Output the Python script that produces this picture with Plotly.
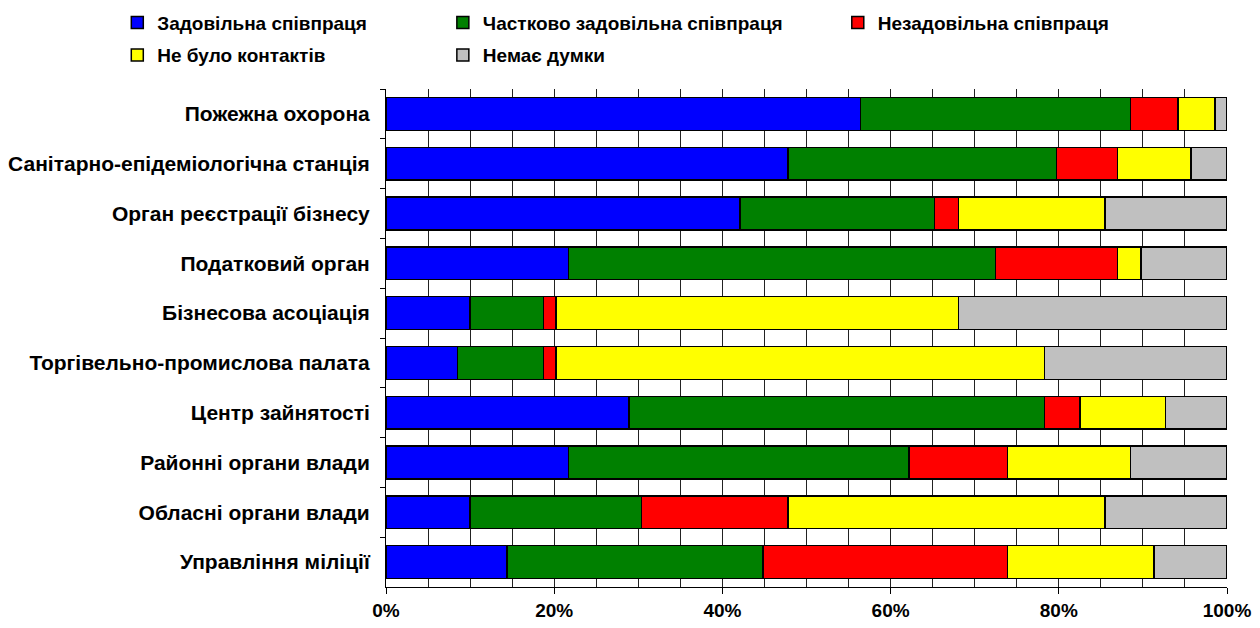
import plotly.graph_objects as go

categories = [
    "Пожежна охорона",
    "Санітарно-епідеміологічна станція",
    "Орган реєстрації бізнесу",
    "Податковий орган",
    "Бізнесова асоціація",
    "Торгівельно-промислова палата",
    "Центр зайнятості",
    "Районні органи влади",
    "Обласні органи влади",
    "Управління міліції",
]

satisfactory = [56.4, 47.8, 42.1, 21.7, 10.0, 8.5, 28.9, 21.7, 10.0, 14.4]
partly = [32.1, 31.9, 23.1, 50.8, 8.7, 10.2, 49.4, 40.5, 20.4, 30.4]
unsatisfactory = [5.7, 7.3, 2.9, 14.5, 1.5, 1.5, 4.2, 11.7, 17.4, 29.1]
no_contact = [4.4, 8.7, 17.4, 2.8, 47.9, 58.1, 10.2, 14.6, 37.7, 17.4]
no_opinion = [1.4, 4.3, 14.5, 10.2, 31.9, 21.7, 7.3, 11.5, 14.5, 8.7]

series_names = [
    "Задовільна співпраця",
    "Частково задовільна співпраця",
    "Незадовільна співпраця",
    "Не було контактів",
    "Немає думки",
]
series_values = [satisfactory, partly, unsatisfactory, no_contact, no_opinion]
colors = ["#0000FF", "#008000", "#FF0000", "#FFFF00", "#C0C0C0"]

x_ticks = [0, 20, 40, 60, 80, 100]
x_ticklabels = ["0%", "20%", "40%", "60%", "80%", "100%"]

FONT = "Liberation Sans, Arial, sans-serif"
legend_ids = ["legend", "legend2", "legend3", "legend4", "legend5"]

fig = go.Figure()
for name, vals, col, lg in zip(series_names, series_values, colors, legend_ids):
    fig.add_trace(go.Bar(
        y=categories, x=vals, name=name, orientation="h",
        marker=dict(color=col, line=dict(color="#000000", width=1.5)),
        legend=lg,
    ))

# legend positions (paper coordinates relative to plot area)
leg_pos = [(-0.3195, 1.133), (0.0676, 1.133), (0.5372, 1.133), (-0.3195, 1.068), (0.0676, 1.068)]
leg_common = dict(
    orientation="h", xanchor="left", yanchor="middle",
    font=dict(family=FONT, size=19, color="#000000", weight="bold"),
    bgcolor="rgba(0,0,0,0)", borderwidth=0, itemwidth=30,
)
layout_legends = {}
for lg, (lx, ly) in zip(legend_ids, leg_pos):
    layout_legends[lg] = dict(x=lx, y=ly, **leg_common)

fig.update_layout(
    barmode="stack",
    bargap=0.34,
    width=1260, height=628,
    margin=dict(l=378, r=41, t=81, b=49, autoexpand=False),
    paper_bgcolor="#FFFFFF",
    plot_bgcolor="#FFFFFF",
    font=dict(family=FONT, size=19, color="#000000"),
    showlegend=True,
    **layout_legends,
)

fig.update_xaxes(
    range=[0, 100],
    tickvals=x_ticks, ticktext=x_ticklabels,
    tickfont=dict(family=FONT, size=19, color="#000000", weight="bold"),
    showgrid=False,
    showline=True, linecolor="#000000", linewidth=1,
    ticks="outside", ticklen=6, tickcolor="#000000", tickwidth=1,
    minor=dict(dtick=5, tick0=0, showgrid=True, gridcolor="#222222", gridwidth=1, ticks=""),
    zeroline=False,
    automargin=False,
    fixedrange=True,
)
fig.update_yaxes(
    autorange="reversed",
    tickfont=dict(family=FONT, size=21, color="#000000", weight="bold"),
    showline=True, linecolor="#000000", linewidth=1,
    ticks="outside", ticklen=5, tickcolor="#000000", tickwidth=1,
    tickson="boundaries",
    showgrid=False,
    ticklabelstandoff=11,
    automargin=False,
    fixedrange=True,
)

fig.write_html("out.html")
